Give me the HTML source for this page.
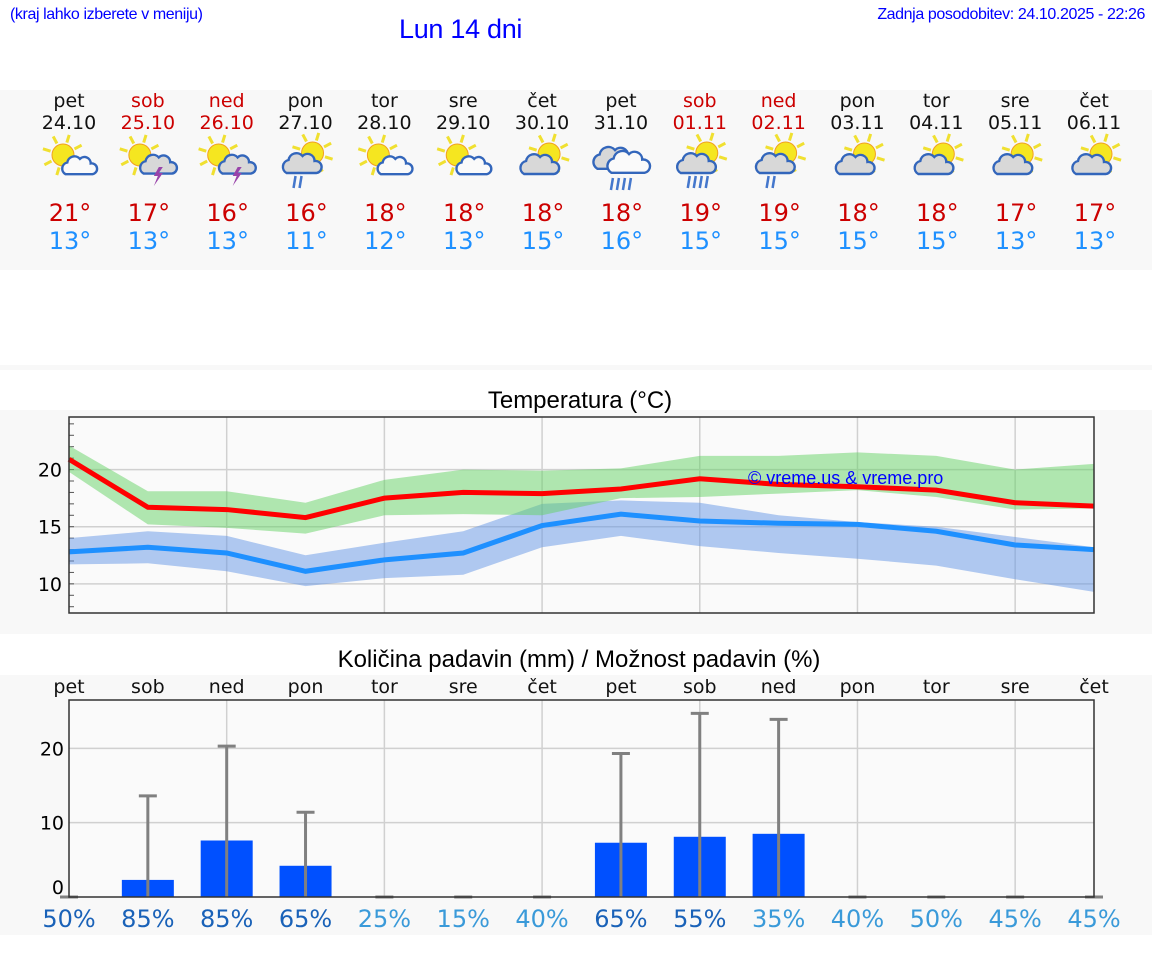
<!DOCTYPE html>
<html><head><meta charset="utf-8">
<style>
html,body{margin:0;padding:0;background:#fff;}
body{width:1152px;height:975px;overflow:hidden;position:relative;font-family:"DejaVu Sans","Liberation Sans",sans-serif;}
.hdr{position:absolute;font-family:"Liberation Sans",sans-serif;color:#0000ff;white-space:nowrap;}
</style></head>
<body>
<div class="hdr" style="left:10px;top:6px;font-size:16px;letter-spacing:-0.4px">(kraj lahko izberete v meniju)</div>
<div class="hdr" style="left:399px;top:14px;font-size:27px;letter-spacing:-0.3px">Lun 14 dni</div>
<div class="hdr" style="right:7px;top:6px;font-size:16px;letter-spacing:-0.4px">Zadnja posodobitev: 24.10.2025 - 22:26</div>
<svg id="svg" width="1152" height="975" style="position:absolute;left:0;top:0"></svg>
<script>
const days=['pet','sob','ned','pon','tor','sre','čet','pet','sob','ned','pon','tor','sre','čet'];
const dates=['24.10','25.10','26.10','27.10','28.10','29.10','30.10','31.10','01.11','02.11','03.11','04.11','05.11','06.11'];
const weekend=[0,1,1,0,0,0,0,0,1,1,0,0,0,0];
const icons=['pc','th','th','rs','pc','pc','gc','rb','rs3','rs','gc','gc','gc','gc'];
const tmaxLabel=[21,17,16,16,18,18,18,18,19,19,18,18,17,17];
const tminLabel=[13,13,13,11,12,13,15,16,15,15,15,15,13,13];
const tmax=[20.9,16.7,16.5,15.8,17.5,18.0,17.9,18.3,19.2,18.7,18.5,18.2,17.1,16.8];
const tmaxHi=[22.1,18.1,18.1,17.1,19.1,20.0,19.9,20.1,21.2,21.2,21.5,21.2,20.0,20.5];
const tmaxLo=[19.8,15.2,14.9,14.4,16.0,16.1,16.0,17.5,17.6,17.9,18.2,17.6,16.5,16.6];
const tmin=[12.8,13.2,12.7,11.1,12.1,12.7,15.1,16.1,15.5,15.3,15.2,14.6,13.4,13.0];
const tminHi=[14.0,14.6,14.2,12.5,13.6,14.6,17.0,17.3,17.1,16.0,15.4,15.0,14.1,13.2];
const tminLo=[11.7,11.8,11.1,9.8,10.5,10.8,13.2,14.2,13.3,12.7,12.2,11.6,10.4,9.3];
const tempTicks=[10,15,20];
const precip=[0,2.3,7.6,4.2,0,0,0,7.3,8.1,8.5,0,0,0,0];
const precipMax=[0,13.6,20.3,11.4,0,0,0,19.3,24.7,23.9,0,0,0,0];
const chance=[50,85,85,65,25,15,40,65,55,35,40,50,45,45];
const chanceDark=[1,1,1,1,0,0,0,1,1,0,0,0,0,0];
const precipTicks=[0,10,20];

const NS='http://www.w3.org/2000/svg';
const svg=document.getElementById('svg');
function el(t,a,p){const e=document.createElementNS(NS,t);for(const k in a)e.setAttribute(k,a[k]);(p||svg).appendChild(e);return e;}
function txt(s,a,p){const e=el('text',a,p);e.textContent=s;return e;}
const X0=69,X1=1094;
const xDay=i=>X0+i*(X1-X0)/13;
el('rect',{x:0,y:90,width:1152,height:180,fill:'#f8f8f8'});
el('rect',{x:0,y:365,width:1152,height:5,fill:'#f8f8f8'});
el('rect',{x:0,y:410,width:1152,height:224,fill:'#f8f8f8'});
el('rect',{x:0,y:675,width:1152,height:260,fill:'#f8f8f8'});

function sun(g,cx,cy,r){
  for(let k=0;k<8;k++){const a=k*Math.PI/4+0.3;el('line',{x1:cx+Math.cos(a)*(r+2),y1:cy+Math.sin(a)*(r+2),x2:cx+Math.cos(a)*(r+10),y2:cy+Math.sin(a)*(r+10),stroke:'#f0e030','stroke-width':3},g);}
  el('circle',{cx:cx,cy:cy,r:r,fill:'#f5e620',stroke:'#f0a020','stroke-width':1},g);
}
function cloud(g,cx,cy,s,fill){
  const d=`M${cx-15*s},${cy+8*s} a${7*s},${7*s} 0 0 1 ${2*s},${-13*s} a${8*s},${8*s} 0 0 1 ${14*s},${-4*s} a${7*s},${7*s} 0 0 1 ${12*s},${5*s} a${6*s},${6*s} 0 0 1 ${2*s},${12*s} z`;
  el('path',{d:d,fill:fill,stroke:'#3366bb','stroke-width':2.4},g);
}
function rain(g,x,y,n){for(let k=0;k<n;k++)el('line',{x1:x+k*6+2,y1:y,x2:x+k*6,y2:y+12,stroke:'#4477cc','stroke-width':2.5},g);}
function drawIcon(type,cx,cy,i){
  const g=el('g',{});
  
  
  if(type==='pc'){sun(g,cx-6,cy-5,11);cloud(g,cx+10,cy+7,0.9,'#fafafa');}
  else if(type==='th'){sun(g,cx-8,cy-5,11);cloud(g,cx+10,cy+6,0.95,'#d8d8d8');el('path',{d:`M${cx+11},${cy+7} l-5,9 h4 l-4,10 l9,-13 h-4 l4,-6z`,fill:'#9944aa'},g);}
  else if(type==='rs'||type==='rs3'){sun(g,cx+7,cy-7,11);cloud(g,cx-4,cy+5,1.0,'#d8d8d8');rain(g,cx-12,cy+16,type==='rs3'?4:2);}
  else if(type==='gc'){sun(g,cx+7,cy-6,11);cloud(g,cx-3,cy+6,1.0,'#d8d8d8');}
  else if(type==='rb'){cloud(g,cx-7,cy,1.1,'#d8d8d8');cloud(g,cx+7,cy+4,1.1,'#fafafa');rain(g,cx-10,cy+18,4);}
}
days.forEach((d,i)=>{
  const x=xDay(i);
  const c=weekend[i]?'#cc0000':'#111';
  const t1=txt(d,{x:x,y:107,'text-anchor':'middle','font-size':19,fill:c});
  
  const t2=txt(dates[i],{x:x,y:129,'text-anchor':'middle','font-size':19,fill:c});
  
  drawIcon(icons[i],x,160,i);
  const t3=txt(tmaxLabel[i]+'°',{x:x+1,y:221,'text-anchor':'middle','font-size':24,fill:'#cc0000'});
  
  const t4=txt(tminLabel[i]+'°',{x:x+1,y:249,'text-anchor':'middle','font-size':24,fill:'#1e90ff'});
  
});

const TY0=417,TY1=613,TMIN=7.45,TMAX=24.6;
const yT=v=>TY1-(v-TMIN)/(TMAX-TMIN)*(TY1-TY0);
txt('Temperatura (°C)',{x:580,y:408,'text-anchor':'middle','font-size':24,fill:'#000','font-family':'Liberation Sans, sans-serif'});
el('rect',{x:X0,y:TY0,width:X1-X0,height:TY1-TY0,fill:'#fafafa'});
for(let i=2;i<13;i+=2)el('line',{x1:xDay(i),y1:TY0,x2:xDay(i),y2:TY1,stroke:'#d0d0d0','stroke-width':1.5});
tempTicks.forEach(v=>{el('line',{x1:X0,y1:yT(v),x2:X1,y2:yT(v),stroke:'#d0d0d0','stroke-width':1.5});
  txt(v,{x:62,y:yT(v)+7,'text-anchor':'end','font-size':19,fill:'#000'});});
for(let v=8;v<=24;v++)el('line',{x1:X0,y1:yT(v),x2:X0+5,y2:yT(v),stroke:'#555','stroke-width':1});
function band(hi,lo,fill,name){
  let d='M'+hi.map((v,i)=>xDay(i)+','+yT(v)).join(' L')+' L'+lo.map((v,i)=>xDay(i)+','+yT(v)).reverse().join(' L')+'Z';
  const p=el('path',{d:d,fill:fill});
}
function line(a,c,name){const p=el('polyline',{points:a.map((v,i)=>xDay(i)+','+yT(v)).join(' '),fill:'none',stroke:c,'stroke-width':5});}
band(tminHi,tminLo,'rgba(100,150,230,0.5)','min-temp-band');
band(tmaxHi,tmaxLo,'rgba(100,210,100,0.5)','max-temp-band');
line(tmax,'#ff0000','max-temp-line');
line(tmin,'#1e90ff','min-temp-line');
txt('© vreme.us & vreme.pro',{x:748,y:484,'font-size':18,fill:'#0000ff','font-family':'Liberation Sans, sans-serif'});
el('rect',{x:X0,y:TY0,width:X1-X0,height:TY1-TY0,fill:'none',stroke:'#333','stroke-width':1.5});

const PY0=700,PY1=897,PMAX=26.5;
const yP=v=>PY1-v/PMAX*(PY1-PY0);
txt('Količina padavin (mm) / Možnost padavin (%)',{x:579,y:667,'text-anchor':'middle','font-size':24,fill:'#000','font-family':'Liberation Sans, sans-serif'});
el('rect',{x:X0,y:PY0,width:X1-X0,height:PY1-PY0,fill:'#fafafa'});
for(let i=2;i<13;i+=2)el('line',{x1:xDay(i),y1:PY0,x2:xDay(i),y2:PY1,stroke:'#d0d0d0','stroke-width':1.5});
precipTicks.forEach(v=>{if(v>0)el('line',{x1:X0,y1:yP(v),x2:X1,y2:yP(v),stroke:'#d0d0d0','stroke-width':1.5});
  txt(v,{x:64,y:v===0?yP(v)-3:yP(v)+7,'text-anchor':'end','font-size':19,fill:'#000'});});
days.forEach((d,i)=>{
  const x=xDay(i);
  const t=txt(d,{x:x,y:693,'text-anchor':'middle','font-size':19,fill:'#111'});
  
  if(precip[i]>0){const b=el('rect',{x:x-26,y:yP(precip[i]),width:52,height:PY1-yP(precip[i]),fill:'#0050ff'});
    }
  const e=el('line',{x1:x,y1:yP(precipMax[i]),x2:x,y2:PY1,stroke:'#808080','stroke-width':3});
  
  el('line',{x1:x-9,y1:yP(precipMax[i]),x2:x+9,y2:yP(precipMax[i]),stroke:'#808080','stroke-width':3});
  const c=txt(chance[i]+'%',{x:x,y:927,'text-anchor':'middle','font-size':24,fill:chanceDark[i]?'#1a62b8':'#3a9ad9'});
  
});
el('rect',{x:X0,y:PY0,width:X1-X0,height:PY1-PY0,fill:'none',stroke:'#333','stroke-width':1.5});
</script>
</body></html>
